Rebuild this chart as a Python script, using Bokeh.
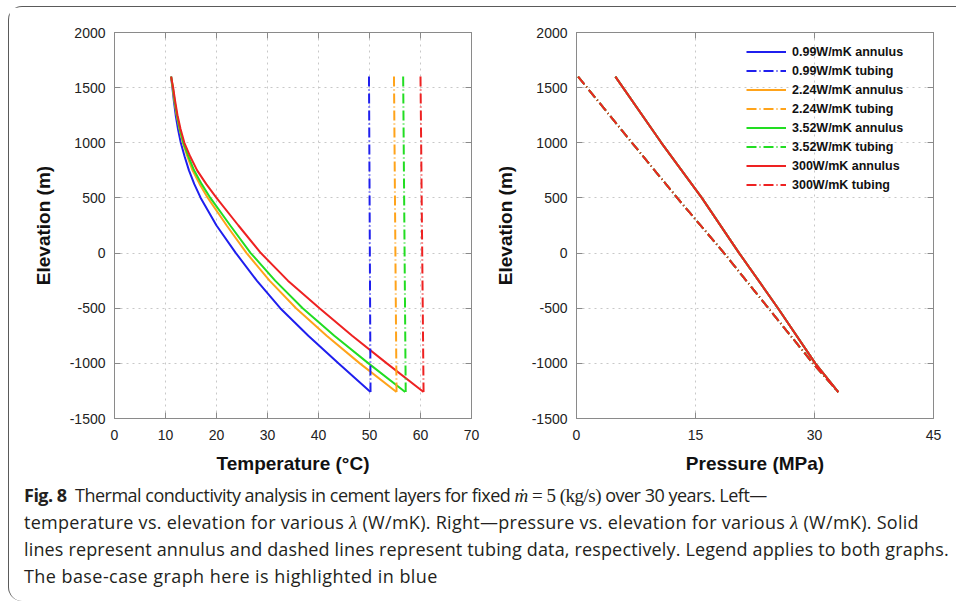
from bokeh.plotting import figure
from bokeh.models import LinearAxis, Legend, LegendItem, Div, FixedTicker, Range1d
from bokeh.layouts import row, column
from bokeh.embed import file_html
from bokeh.resources import INLINE

# ---------------- data ----------------
series_names = ["0.99W/mK", "2.24W/mK", "3.52W/mK", "300W/mK"]
series_colors = ["#1f1fee", "#ffa31a", "#22dd22", "#ee2222"]

elev = [1600, 1500, 1375, 1250, 1125, 1000, 875, 750, 625, 500, 250, 0,
        -250, -500, -750, -1000, -1260]
temp_ann_099 = [11.1, 11.35, 11.65, 12.0, 12.45, 13.0, 13.75, 14.6, 15.65, 16.9, 20.0, 23.8,
                27.9, 32.5, 38.0, 43.9, 50.2]
temp_ann_224 = [11.1, 11.4, 11.75, 12.2, 12.75, 13.4, 14.3, 15.3, 16.7, 18.3, 22.0, 25.9,
                30.4, 35.6, 41.6, 48.1, 55.3]
temp_ann_352 = [11.1, 11.45, 11.8, 12.25, 12.8, 13.5, 14.5, 15.6, 17.1, 18.8, 22.7, 26.7,
                31.5, 36.9, 43.1, 49.8, 57.0]
temp_ann_300 = [11.1, 11.5, 11.9, 12.35, 12.95, 13.7, 14.85, 16.2, 18.0, 20.0, 24.3, 28.7,
                34.0, 40.2, 46.6, 53.4, 60.6]

elev_tub = [1600, -1260]
temp_tub_099 = [49.9, 50.2]
temp_tub_224 = [54.8, 55.3]
temp_tub_352 = [56.6, 57.1]
temp_tub_300 = [60.0, 60.6]

elev_p = [1600, 1000, 500, 0, -500, -1000, -1260]
pres_ann_099 = [4.9, 10.7, 15.8, 20.5, 25.4, 30.1, 33.0]
pres_ann_224 = [4.9, 10.7, 15.8, 20.5, 25.4, 30.1, 33.0]
pres_ann_352 = [4.9, 10.7, 15.8, 20.5, 25.4, 30.1, 33.0]
pres_ann_300 = [4.9, 10.7, 15.8, 20.5, 25.4, 30.1, 33.0]
pres_tub_099 = [0.2, 7.0, 12.7, 18.6, 24.2, 29.8, 33.0]
pres_tub_224 = [0.2, 7.0, 12.7, 18.6, 24.2, 29.8, 33.0]
pres_tub_352 = [0.2, 7.0, 12.7, 18.6, 24.2, 29.8, 33.0]
pres_tub_300 = [0.2, 7.0, 12.7, 18.6, 24.2, 29.8, 33.0]

temp_ticks = [0, 10, 20, 30, 40, 50, 60, 70]
pres_ticks = [0, 15, 30, 45]
elev_ticks = [-1500, -1000, -500, 0, 500, 1000, 1500, 2000]

temp_ann = [temp_ann_099, temp_ann_224, temp_ann_352, temp_ann_300]
temp_tub = [temp_tub_099, temp_tub_224, temp_tub_352, temp_tub_300]
pres_ann = [pres_ann_099, pres_ann_224, pres_ann_352, pres_ann_300]
pres_tub = [pres_tub_099, pres_tub_224, pres_tub_352, pres_tub_300]

FONT = "Liberation Sans"
AX = "#8a8a8a"
DASH = "10 3 1 3"


def style_axis(ax, ticks, show_labels=True, standoff=9):
    ax.ticker = FixedTicker(ticks=ticks)
    ax.axis_line_color = AX
    ax.major_tick_line_color = AX
    ax.major_tick_in = 6
    ax.major_tick_out = 0
    ax.minor_tick_line_color = None
    ax.major_label_text_font = FONT
    ax.major_label_text_color = "#222222"
    ax.axis_label_text_font = FONT
    ax.axis_label_text_font_style = "bold"
    ax.axis_label_text_font_size = "19px"
    ax.axis_label_text_color = "#111111"
    if show_labels:
        ax.major_label_text_font_size = "14px"
        ax.major_label_standoff = standoff
        ax.major_label_overrides = {t: str(t) for t in ticks}
    else:
        ax.major_label_text_font_size = "1px"
        ax.major_label_standoff = 0
        ax.major_label_overrides = {t: "" for t in ticks}


def make_fig(width, xr, xticks, xlabel, mbl, mbr):
    p = figure(width=width, height=470, x_range=Range1d(*xr), y_range=Range1d(-1500, 2000),
               output_backend="svg", toolbar_location=None,
               min_border_left=mbl, min_border_right=mbr, min_border_top=25, min_border_bottom=59)
    p.outline_line_color = AX
    p.background_fill_color = "white"
    p.border_fill_color = "white"
    style_axis(p.xaxis[0], xticks, standoff=11)
    style_axis(p.yaxis[0], elev_ticks, standoff=9)
    p.xaxis.axis_label = xlabel
    p.yaxis.axis_label = "Elevation (m)"
    p.xaxis.axis_label_standoff = 10
    p.yaxis.axis_label_standoff = 13
    top = LinearAxis()
    style_axis(top, xticks, show_labels=False)
    p.add_layout(top, "above")
    right = LinearAxis()
    style_axis(right, elev_ticks, show_labels=False)
    p.add_layout(right, "right")
    p.grid.grid_line_color = "#c8c8c8"
    p.grid.grid_line_dash = "dotted"
    p.grid.grid_line_width = 1
    return p


p1 = make_fig(481, (0, 70), temp_ticks, "Temperature (°C)", 105, 19)
p2 = make_fig(458, (0, 45), pres_ticks, "Pressure (MPa)", 86, 15)

for i in range(4):
    p1.line(temp_ann[i], elev, line_color=series_colors[i], line_width=2)
for i in range(4):
    p1.line(temp_tub[i], elev_tub, line_color=series_colors[i], line_width=2, line_dash=DASH)

items = []
for i in range(4):
    ra = p2.line(pres_ann[i], elev_p, line_color=series_colors[i], line_width=2)
    rt = p2.line(pres_tub[i], elev_p, line_color=series_colors[i], line_width=2, line_dash=DASH)
    items.append(LegendItem(label=series_names[i] + " annulus", renderers=[ra]))
    items.append(LegendItem(label=series_names[i] + " tubing", renderers=[rt]))

legend = Legend(items=items, location=(170, 224), border_line_color=None,
                background_fill_alpha=0, label_text_font=FONT, label_text_font_style="bold",
                label_text_font_size="12.5px", label_text_color="#111111",
                glyph_width=40, glyph_height=19, label_height=19, spacing=0, padding=4,
                label_standoff=6)
p2.add_layout(legend)

MATH = "font-family:'Liberation Serif'; font-size:19px;"
caption_html = (
    '<div style="font-family:\'Open Sans\'; font-size:18px; line-height:27px; color:#231f20; '
    'padding-left:10px; padding-top:0px; white-space:nowrap;">'
    '<div style="letter-spacing:-0.5px;"><b>Fig. 8</b>&nbsp; Thermal conductivity analysis in cement layers for fixed '
    f'<span style="{MATH}"><i>ṁ</i> = 5 (kg/s)</span>'
    ' over 30 years. Left—</div>'
    '<div style="letter-spacing:0.28px;">temperature vs. elevation for various '
    f'<span style="{MATH}"><i>λ</i></span> (W/mK). '
    f'Right—pressure vs. elevation for various <span style="{MATH}"><i>λ</i></span> (W/mK). Solid</div>'
    '<div style="letter-spacing:0.15px;">lines represent annulus and dashed lines represent tubing data, '
    'respectively. Legend applies to both graphs.</div>'
    '<div style="letter-spacing:0.43px;">The base-case graph here is highlighted in blue</div></div>'
)
cap = Div(text=caption_html, width=939, height=114)

layout = column(row(p1, p2), cap,
                styles={"border-top": "1.5px solid #5a5a5a", "border-left": "1.5px solid #5a5a5a",
                        "border-top-left-radius": "14px", "border-bottom-left-radius": "14px",
                        "background": "white", "margin-top": "6px", "margin-left": "8px"})

open("out.html", "w").write(file_html(layout, INLINE))
